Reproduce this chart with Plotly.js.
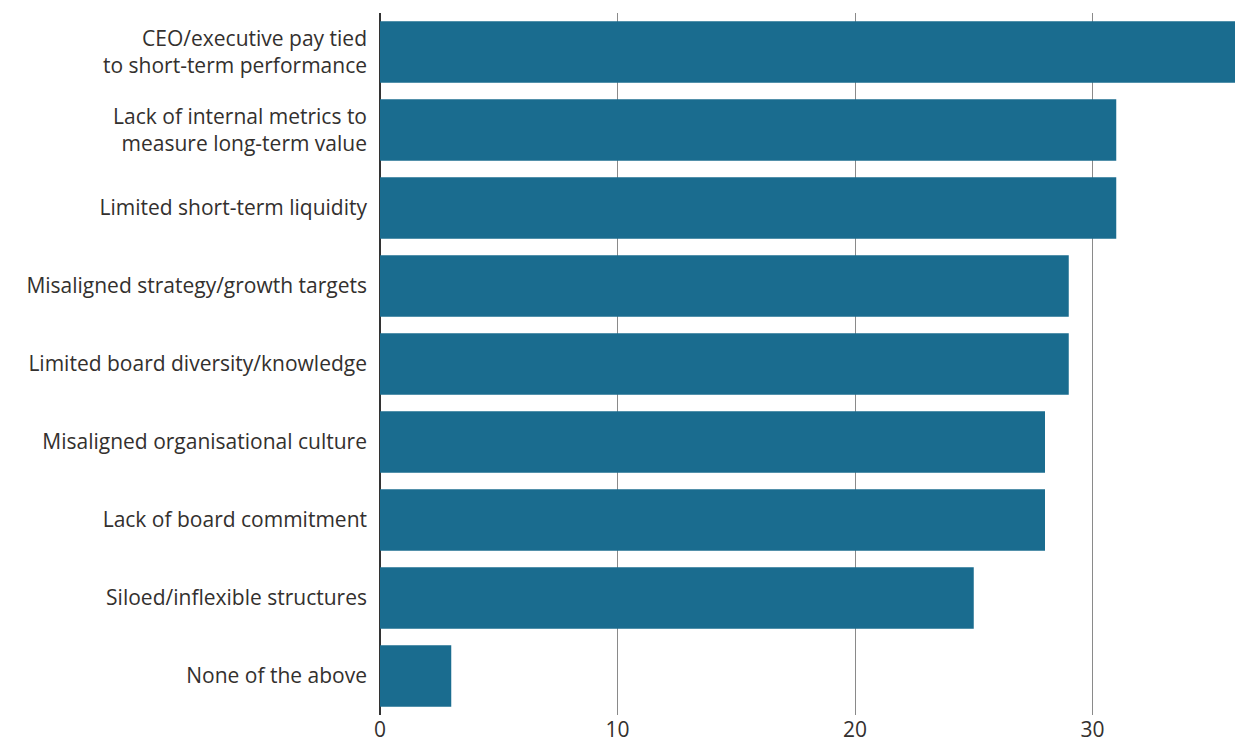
<!DOCTYPE html>
<html>
<head>
<meta charset="utf-8">
<script src="https://cdn.plot.ly/plotly-3.0.1.min.js"></script>
<style>
html,body{margin:0;padding:0;background:#fff;}
#chart{width:1255px;height:742px;}
</style>
</head>
<body>
<div id="chart"></div>
<script>
const categories = [
  "CEO/executive pay tied<br>to short-term performance",
  "Lack of internal metrics to<br>measure long-term value",
  "Limited short-term liquidity",
  "Misaligned strategy/growth targets",
  "Limited board diversity/knowledge",
  "Misaligned organisational culture",
  "Lack of board commitment",
  "Siloed/inflexible structures",
  "None of the above"
];
const values = [36, 31, 31, 29, 29, 28, 28, 25, 3];
const tickVals = [0, 10, 20, 30];
const tickText = ["0", "10", "20", "30"];

const trace = {
  type: "bar",
  orientation: "h",
  y: categories,
  x: values,
  marker: {color: "#1a6c8f"},
  hoverinfo: "x+y"
};

const layout = {
  width: 1255,
  height: 742,
  margin: {l: 380, r: 20, t: 13, b: 27},
  paper_bgcolor: "#fff",
  plot_bgcolor: "#fff",
  bargap: 0.21,
  showlegend: false,
  font: {family: "'Open Sans', 'Noto Sans', sans-serif", size: 21, color: "#33302e"},
  xaxis: {
    range: [0, 36],
    tickvals: tickVals,
    ticktext: tickText,
    showgrid: true,
    gridcolor: "#8a8a8a",
    gridwidth: 1,
    zeroline: true,
    zerolinecolor: "#333333",
    zerolinewidth: 2,
    showline: false,
    ticks: "",
    tickfont: {size: 21, color: "#33302e"},
    fixedrange: true
  },
  yaxis: {
    autorange: "reversed",
    showgrid: false,
    zeroline: false,
    showline: false,
    ticks: "",
    ticklabelstandoff: 12,
    tickfont: {size: 21, color: "#33302e"},
    fixedrange: true
  }
};

Plotly.newPlot("chart", [trace], layout, {displayModeBar: false, staticPlot: true});
</script>
</body>
</html>
